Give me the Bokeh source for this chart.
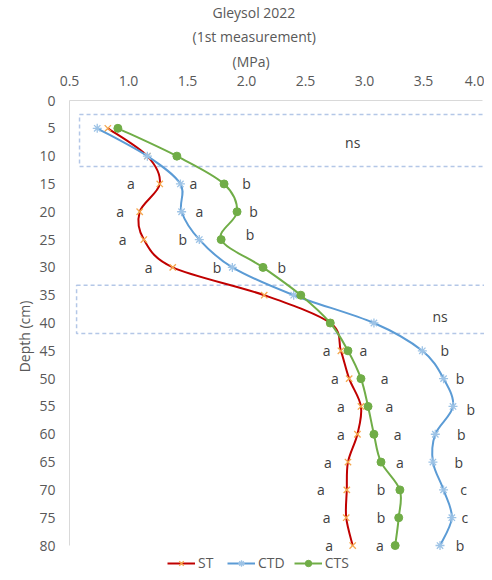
from bokeh.plotting import figure
from bokeh.models import (Range1d, FixedTicker, Legend, LegendItem, NumeralTickFormatter, Title,
                          LabelSet, ColumnDataSource)
from bokeh.core.properties import value
from bokeh.embed import file_html
from bokeh.resources import INLINE

# ---- data ----
depth = [5, 10, 15, 20, 25, 30, 35, 40, 45, 50, 55, 60, 65, 70, 75, 80]
st = [0.825, 1.16, 1.265, 1.095, 1.13, 1.375, 2.15, 2.71, 2.80, 2.87, 2.97, 2.94, 2.86, 2.85, 2.845, 2.90]
ctd = [0.735, 1.16, 1.44, 1.45, 1.60, 1.88, 2.40, 3.08, 3.49, 3.67, 3.75, 3.60, 3.58, 3.67, 3.74, 3.64]
cts = [0.91, 1.41, 1.81, 1.92, 1.785, 2.14, 2.46, 2.71, 2.86, 2.97, 3.03, 3.08, 3.14, 3.30, 3.29, 3.26]

sig_depth = [15, 15, 15, 20, 20, 20, 25, 25, 24, 30, 30, 30,
             45, 45, 45, 50, 50, 50, 55, 55, 55.5, 60, 60, 60, 65, 65, 65,
             70, 70, 70, 75, 75, 75, 80, 80, 80]
sig_x = [1.02, 1.55, 2.00, 0.93, 1.60, 2.06, 0.95, 1.46, 2.03, 1.17, 1.75, 2.30,
         2.68, 2.99, 3.68, 2.75, 3.17, 3.81, 2.80, 3.21, 3.90, 2.80, 3.28, 3.82, 2.69, 3.30, 3.80,
         2.63, 3.14, 3.84, 2.68, 3.14, 3.85, 2.70, 3.13, 3.81]
sig_text = ["a", "a", "b", "a", "a", "b", "a", "b", "b", "a", "b", "b",
            "a", "a", "b", "a", "a", "b", "a", "a", "b", "a", "a", "b", "a", "a", "b",
            "a", "b", "c", "a", "b", "c", "a", "a", "b"]

ns_x = [2.90, 3.64]
ns_depth = [7.5, 38.8]
box_left = [0.585, 0.56]
box_right = [4.03, 4.07]
box_top = [2.5, 33.2]
box_bottom = [11.85, 41.9]

x_ticks = [0.5, 1.0, 1.5, 2.0, 2.5, 3.0, 3.5, 4.0]
y_ticks = list(range(0, 81, 5))

FONT = "Open Sans"
AX = "#595959"

p = figure(width=484, height=572, output_backend="svg", toolbar_location=None,
           x_range=Range1d(0.5, 4.017), y_range=Range1d(84.85, 0),
           x_axis_location="above",
           min_border_left=69, min_border_right=0, min_border_top=10, min_border_bottom=0)
p.outline_line_color = None
p.grid.visible = False

p.title.text = "Gleysol 2022"
p.title.align = "left"
p.title.offset = 143
p.title.text_font = FONT
p.title.text_font_size = "14px"
p.title.text_font_style = "normal"
p.title.text_color = AX
p.title.standoff = 0

sub = Title(text="(1st measurement)", align="left", offset=123, text_font=FONT, text_font_size="14px",
            text_font_style="normal", text_color=AX, standoff=6)
mpa = Title(text="(MPa)", align="left", offset=163, text_font=FONT, text_font_size="14px",
            text_font_style="normal", text_color=AX, standoff=3)

for ax in (p.xaxis[0], p.yaxis[0]):
    ax.axis_line_color = "#d9d9d9"
    ax.axis_line_width = 1
    ax.major_tick_line_color = None
    ax.minor_tick_line_color = None
    ax.major_label_text_font = FONT
    ax.major_label_text_font_size = "14px"
    ax.major_label_text_color = AX
    ax.axis_label_text_font = FONT
    ax.axis_label_text_font_size = "14px"
    ax.axis_label_text_font_style = "normal"
    ax.axis_label_text_color = AX

xax = p.xaxis[0]
xax.ticker = FixedTicker(ticks=x_ticks)
xax.formatter = NumeralTickFormatter(format="0.0")
xax.bounds = (0.5, 4.0)
xax.major_label_standoff = 9
p.above = [xax, mpa, sub]

p.yaxis.ticker = FixedTicker(ticks=y_ticks)
p.yaxis.bounds = (0, 80)
p.yaxis.axis_label = "Depth (cm)"
p.yaxis.major_label_standoff = 8
p.yaxis.axis_label_standoff = 2

# dashed boxes
p.quad(left=box_left, right=box_right, top=box_top, bottom=box_bottom,
       fill_alpha=0, line_color="#b4c7e7", line_dash="4 3", line_width=1.5)


def smooth(xs, ys):
    n = len(xs)
    d = dict(x0=[], y0=[], x1=[], y1=[], cx0=[], cy0=[], cx1=[], cy1=[])
    for i in range(n - 1):
        im = max(i - 1, 0)
        ip = min(i + 2, n - 1)
        d["x0"].append(xs[i]); d["y0"].append(ys[i])
        d["x1"].append(xs[i + 1]); d["y1"].append(ys[i + 1])
        d["cx0"].append(xs[i] + (xs[i + 1] - xs[im]) / 6)
        d["cy0"].append(ys[i] + (ys[i + 1] - ys[im]) / 6)
        d["cx1"].append(xs[i + 1] - (xs[ip] - xs[i]) / 6)
        d["cy1"].append(ys[i + 1] - (ys[ip] - ys[i]) / 6)
    return d


series = [
    ("ST", st, "#c00000", "x", "#f5a84e"),
    ("CTD", ctd, "#5b9bd5", "asterisk", "#9dc3e6"),
    ("CTS", cts, "#70ad47", "circle", "#70ad47"),
]
items = []
for name, vals, lc, mk, mc in series:
    b = smooth(vals, depth)
    br = p.bezier(x0=b["x0"], y0=b["y0"], x1=b["x1"], y1=b["y1"],
                  cx0=b["cx0"], cy0=b["cy0"], cx1=b["cx1"], cy1=b["cy1"],
                  line_color=lc, line_width=2)
    if mk == "circle":
        mr = p.scatter(vals, depth, marker=mk, size=8, fill_color=mc, line_color=mc)
    else:
        mr = p.scatter(vals, depth, marker=mk, size=9, line_color=mc, line_width=1.3)
    items.append(LegendItem(label=name, renderers=[br, mr]))

sig_src = ColumnDataSource(dict(x=sig_x, y=sig_depth, t=sig_text))
p.add_layout(LabelSet(x="x", y="y", text="t", source=sig_src, text_font=value(FONT),
                      text_font_size=value("14px"), text_color="#404040",
                      text_align="center", text_baseline="middle"))
ns_src = ColumnDataSource(dict(x=ns_x, y=ns_depth, t=["ns", "ns"]))
p.add_layout(LabelSet(x="x", y="y", text="t", source=ns_src, text_font=value(FONT),
                      text_font_size=value("14px"), text_color="#404040",
                      text_align="center", text_baseline="middle"))

legend = Legend(items=items, orientation="horizontal", location=(98, 0),
                label_text_font=FONT, label_text_font_size="14px", label_text_color=AX,
                border_line_color=None, background_fill_alpha=0,
                glyph_width=28, glyph_height=16, spacing=9, padding=1, margin=0,
                label_standoff=3)
p.add_layout(legend, "center")

open("out.html", "w").write(file_html(p, INLINE))
